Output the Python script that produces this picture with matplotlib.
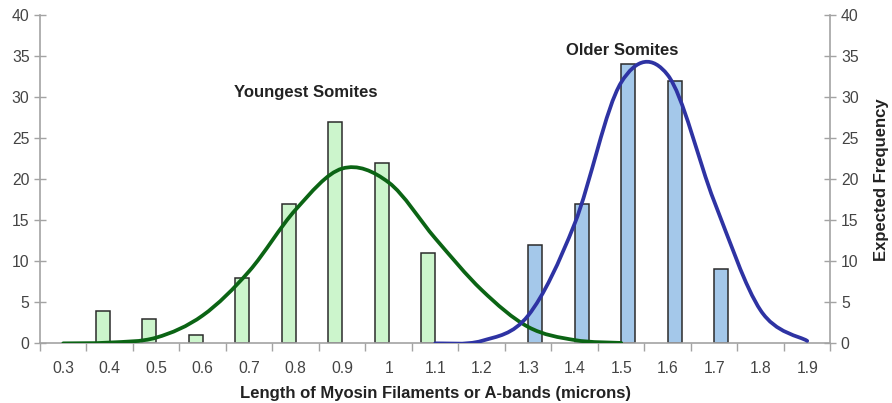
import matplotlib
matplotlib.use("Agg")
import matplotlib.pyplot as plt
from matplotlib.path import Path
from matplotlib.patches import PathPatch

plt.rcParams['font.family'] = ['Liberation Sans', 'DejaVu Sans']

categories = ['0.3', '0.4', '0.5', '0.6', '0.7', '0.8', '0.9', '1', '1.1',
              '1.2', '1.3', '1.4', '1.5', '1.6', '1.7', '1.8', '1.9']

# observed counts (bars)
young_cats = ['0.4', '0.5', '0.6', '0.7', '0.8', '0.9', '1', '1.1']
young_counts = [4, 3, 1, 8, 17, 27, 22, 11]
older_cats = ['1.3', '1.4', '1.5', '1.6', '1.7']
older_counts = [12, 17, 34, 32, 9]

# expected frequency (smoothed lines)
young_fit_cats = ['0.3', '0.4', '0.5', '0.6', '0.7', '0.8', '0.9', '1', '1.1',
                  '1.2', '1.3', '1.4', '1.5']
young_fit = [0, 0.1, 0.7, 3.4, 8.8, 16.3, 21.3, 19.6, 12.8, 6.5, 2.0, 0.4, 0.05]
older_fit_cats = ['1.1', '1.2', '1.3', '1.4', '1.5', '1.6', '1.7', '1.8', '1.9']
older_fit = [0, 0.3, 3.4, 14.6, 31.8, 32.7, 17.3, 4.0, 0.3]


def smooth_path(xs, ys):
    # excel-style smoothed line: bezier segments through the points
    verts = [(xs[0], ys[0])]
    codes = [Path.MOVETO]
    n = len(xs)
    for i in range(n - 1):
        x0, y0 = xs[max(i - 1, 0)], ys[max(i - 1, 0)]
        x1, y1 = xs[i], ys[i]
        x2, y2 = xs[i + 1], ys[i + 1]
        x3, y3 = xs[min(i + 2, n - 1)], ys[min(i + 2, n - 1)]
        c1 = (x1 + (x2 - x0) / 6, y1 + (y2 - y0) / 6)
        c2 = (x2 - (x3 - x1) / 6, y2 - (y3 - y1) / 6)
        verts += [c1, c2, (x2, y2)]
        codes += [Path.CURVE4] * 3
    return Path(verts, codes)


idx = {c: i for i, c in enumerate(categories)}
gray = '#a3a3a3'
txt = '#444444'
fs = 11.3

fig = plt.figure(figsize=(8.92, 4.03), dpi=100)
ax = fig.add_axes([0.0448, 0.148, 0.8862, 0.8146])

ax.bar([idx[c] - 0.15 for c in young_cats], young_counts, width=0.3,
       color='#ccf5cc', edgecolor='#2b2b2b', linewidth=1.1, zorder=2)
ax.bar([idx[c] + 0.15 for c in older_cats], older_counts, width=0.3,
       color='#a4c8ea', edgecolor='#2b2b2b', linewidth=1.1, zorder=2)

ax.add_patch(PathPatch(smooth_path([idx[c] for c in young_fit_cats], young_fit),
                       fill=False, edgecolor='#0b6414', linewidth=2.7,
                       capstyle='round', zorder=3))
ax.add_patch(PathPatch(smooth_path([idx[c] for c in older_fit_cats], older_fit),
                       fill=False, edgecolor='#2e33a3', linewidth=2.7,
                       capstyle='round', zorder=3))

ax.set_xlim(-0.5, len(categories) - 0.5)
ax.set_ylim(0, 40)
ax.set_xticks(range(len(categories)))
ax.set_xticklabels(categories)
ax.set_xticks([i - 0.5 for i in range(len(categories) + 1)], minor=True)
ax.set_yticks(range(0, 41, 5))

ax.tick_params(axis='x', which='major', length=0, pad=13, labelsize=fs,
               labelcolor=txt)
ax.tick_params(axis='x', which='minor', direction='out', length=6,
               color=gray, width=1)
ax.tick_params(axis='y', direction='inout', length=9, color=gray, width=1,
               labelsize=fs, labelcolor=txt, pad=3)

for s in ['top', 'right']:
    ax.spines[s].set_visible(False)
for s in ['left', 'bottom']:
    ax.spines[s].set_color(gray)
    ax.spines[s].set_linewidth(1.2)

ax2 = ax.twinx()
ax2.set_ylim(0, 40)
ax2.set_yticks(range(0, 41, 5))
ax2.tick_params(axis='y', direction='inout', length=9, color=gray, width=1,
                labelsize=fs, labelcolor=txt, pad=3)
for s in ['top', 'left', 'bottom']:
    ax2.spines[s].set_visible(False)
ax2.spines['right'].set_color(gray)
ax2.spines['right'].set_linewidth(1.2)
ax2.set_ylabel('Expected Frequency', fontsize=12, fontweight='bold',
               color='#222222', labelpad=11)

ax.set_xlabel('Length of Myosin Filaments or A-bands (microns)', fontsize=12,
              fontweight='bold', color='#222222', labelpad=7)

ax.text(5.22, 30.6, 'Youngest Somites', ha='center', va='center',
        fontsize=12, fontweight='bold', color='#222222')
ax.text(12.03, 35.7, 'Older Somites', ha='center', va='center',
        fontsize=12, fontweight='bold', color='#222222')

fig.savefig('out.png', dpi=100)
